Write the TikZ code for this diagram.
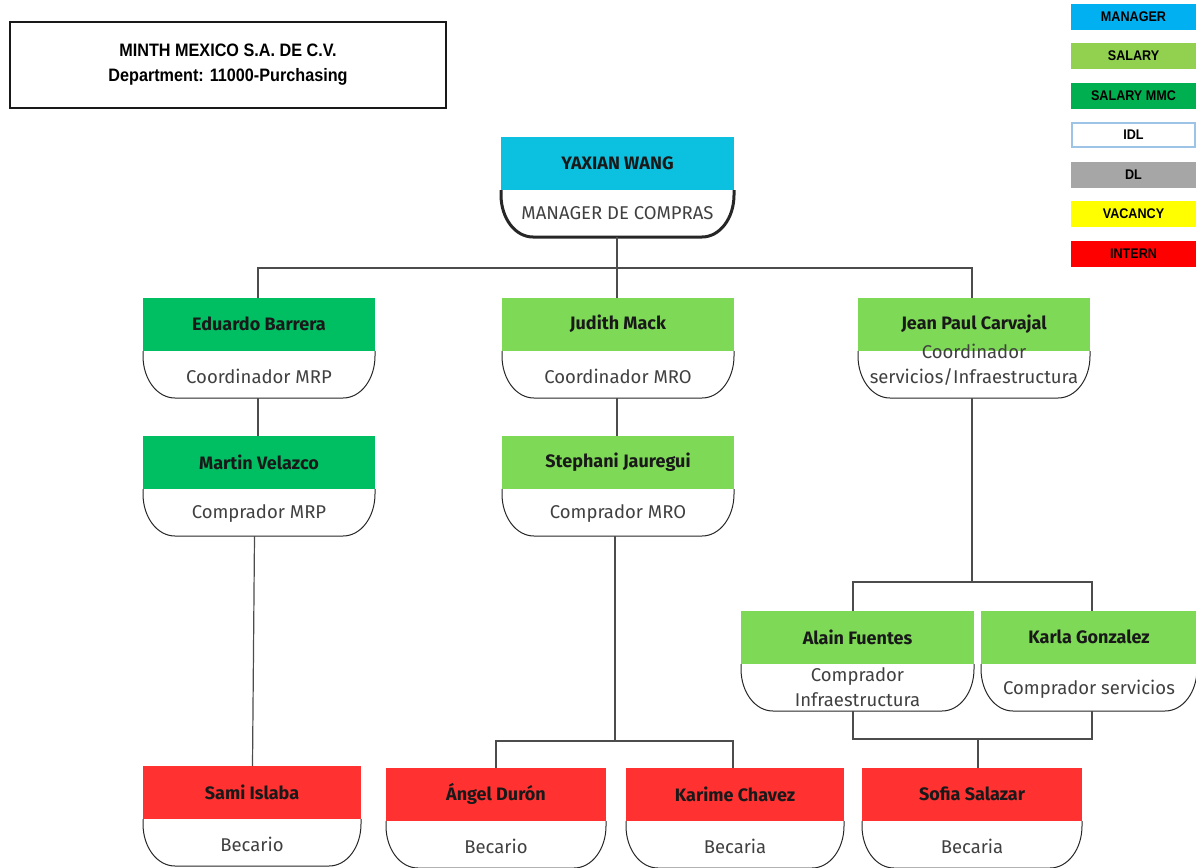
\documentclass[tikz,border=0pt]{standalone}
\usepackage{fontspec}
\setmainfont{Fira Sans}
\newfontfamily\narrowfont[FakeStretch=0.9]{Liberation Sans}
\definecolor{mgrcyan}{HTML}{0CC0DF}
\definecolor{mmcgreen}{HTML}{00BF63}
\definecolor{salgreen}{HTML}{7ED957}
\definecolor{internred}{HTML}{FF3131}
\definecolor{lgblue}{HTML}{00B0F0}
\definecolor{lgsal}{HTML}{92D050}
\definecolor{lgmmc}{HTML}{00B050}
\definecolor{lgidl}{HTML}{9DC3E6}
\definecolor{lgdl}{HTML}{A6A6A6}
\definecolor{lgvac}{HTML}{FFFF00}
\definecolor{lgint}{HTML}{FF0000}
\definecolor{roletxt}{HTML}{404040}
\tikzset{
  conn/.style={draw=black!70, line width=1.2pt},
  cardbox/.style={minimum height=100pt, inner sep=0pt, outer sep=0pt},
  nametext/.style={font=\fontsize{18}{21}\selectfont\bfseries, text=black!90, inner sep=0pt},
  roletext/.style={font=\fontsize{18.5}{25}\selectfont, text=roletxt, align=center, inner sep=0pt},
  legend/.style={minimum width=125pt, minimum height=26pt, inner sep=0pt, font=\narrowfont\fontsize{14}{16}\selectfont\bfseries},
}
% #1 id, #2 cx, #3 ytop, #4 width, #5 fill, #6 name, #7 role, #8 outline width, #9 role centre below top
\newcommand\card[9]{%
  \node[cardbox, minimum width=#4pt] (#1) at (#2, #3+50) {};
  \fill[#5] (#1.north west) rectangle ([yshift=-53pt]#1.north east);
  \draw[line width=#8, draw=black!85, line join=round]
     ([yshift=-53pt]#1.north west) -- ([yshift=42pt]#1.south west)
     .. controls ([yshift=19pt]#1.south west) and ([xshift=14pt]#1.south west) .. ([xshift=32pt]#1.south west)
     -- ([xshift=-32pt]#1.south east)
     .. controls ([xshift=-14pt]#1.south east) and ([yshift=19pt]#1.south east) .. ([yshift=42pt]#1.south east)
     -- ([yshift=-53pt]#1.north east);
  \node[nametext] at ([yshift=-26pt]#1.north) {#6};
  \node[roletext] at ([yshift=-#9pt]#1.north) {#7};
}
\begin{document}
\begin{tikzpicture}[x=1pt, y=-1pt]
\useasboundingbox (0,0) rectangle (1196,867);

% title box
\node[draw=black!90, line width=2pt, minimum width=436pt, minimum height=86pt, inner sep=0pt,
      align=center, font=\narrowfont\fontsize{18}{25}\selectfont\bfseries] (title) at (228,65)
  {MINTH MEXICO S.A. DE C.V.\\Department: 11000-Purchasing};

% legend
\node[legend, fill=lgblue] (lmgr) at (1133.5,17) {MANAGER};
\node[legend, fill=lgsal] (lsal) at (1133.5,56) {SALARY};
\node[legend, fill=lgmmc] (lmmc) at (1133.5,96) {SALARY MMC};
\node[legend, fill=white, draw=lgidl, line width=1.2pt, minimum width=123pt, minimum height=24pt] (lidl) at (1133.5,135) {IDL};
\node[legend, fill=lgdl] (ldl) at (1133.5,175) {DL};
\node[legend, fill=lgvac] (lvac) at (1133.5,214) {VACANCY};
\node[legend, fill=lgint] (lint) at (1133.5,254) {INTERN};

% cards
\card{mgr}{617.5}{137}{233}{mgrcyan}{YAXIAN WANG}{MANAGER DE COMPRAS}{3pt}{76}
\card{edu}{259}{298}{232}{mmcgreen}{Eduardo Barrera}{Coordinador MRP}{1pt}{78}
\card{jud}{618}{298}{232}{salgreen}{Judith Mack}{Coordinador MRO}{1pt}{78}
\card{jp}{974}{298}{232}{salgreen}{Jean Paul Carvajal}{Coordinador\\servicios/Infraestructura}{1pt}{66.5}
\card{mar}{259}{436}{232}{mmcgreen}{Martin Velazco}{Comprador MRP}{1pt}{78}
\card{ste}{618}{436}{232}{salgreen}{Stephani Jauregui}{Comprador MRO}{1pt}{78}
\card{ala}{857.5}{611}{233}{salgreen}{Alain Fuentes}{Comprador\\Infraestructura}{1pt}{76}
\card{kar}{1089}{611}{216}{salgreen}{Karla Gonzalez}{Comprador servicios}{1pt}{78}
\card{sam}{252}{766}{218}{internred}{Sami Islaba}{Becario}{1pt}{78}
\card{ang}{496}{768}{220}{internred}{Ángel Durón}{Becario}{1pt}{78}
\card{kri}{735}{768}{218}{internred}{Karime Chavez}{Becaria}{1pt}{78}
\card{sof}{972}{768}{220}{internred}{Sofia Salazar}{Becaria}{1pt}{78}

% connectors
\coordinate (bus1) at (617,268);
\draw[conn] ([xshift=-0.5pt]mgr.south) -- ([xshift=-0.5pt]mgr.south |- bus1);
\draw[conn] ([xshift=-1pt]edu.north) |- (bus1) -| ([xshift=-2pt]jp.north);
\draw[conn] ([xshift=-1pt]jud.north) -- ([xshift=-1pt]jud.north |- bus1);
\draw[conn] ([xshift=-1pt]edu.south) -- ([xshift=-1pt]mar.north);
\draw[conn] ([xshift=-1pt]jud.south) -- ([xshift=-1pt]ste.north);
\draw[conn] ([xshift=-4.5pt]mar.south) -- ([xshift=0.5pt]sam.north);
% Stephani to interns
\coordinate (bus2) at (615,741);
\draw[conn] ([xshift=-3pt]ste.south) -- (bus2);
\draw[conn] (ang.north) |- (bus2) -| ([xshift=-2pt]kri.north);
% Jean Paul to buyers
\coordinate (bus3) at (972,582);
\draw[conn] ([xshift=-2pt]jp.south) -- (bus3);
\draw[conn] ([xshift=-4.5pt]ala.north) |- (bus3) -| ([xshift=3pt]kar.north);
% buyers to Sofia
\coordinate (bus4) at (978,739);
\draw[conn] ([xshift=-4.5pt]ala.south) |- (bus4);
\draw[conn] ([xshift=3pt]kar.south) |- (bus4);
\draw[conn] (bus4) -- ([xshift=6pt]sof.north);
\end{tikzpicture}
\end{document}
